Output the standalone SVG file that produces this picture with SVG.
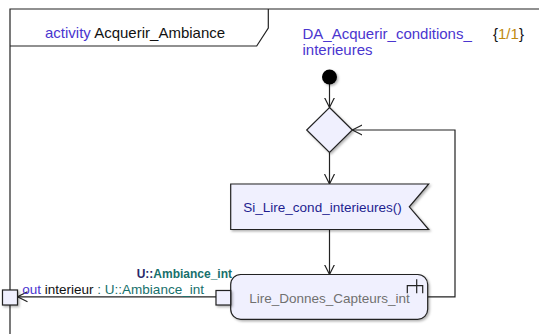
<svg xmlns="http://www.w3.org/2000/svg" width="539" height="334" viewBox="0 0 539 334">
<defs>
<style>
.ln{fill:none;stroke:#222;stroke-width:1.2}
.nd{fill:#f0f0fe;stroke:#222;stroke-width:1.2}
.t{font-family:"Liberation Sans",Arial,sans-serif}
.kw{fill:#4a36cf}
.teal{fill:#17706c}
</style>
<marker id="arr" markerWidth="12" markerHeight="12" refX="10" refY="5" orient="auto" markerUnits="userSpaceOnUse" viewBox="0 0 12 10">
<path d="M0,0 L10,5 L0,10" fill="none" stroke="#222" stroke-width="1.2"/>
</marker>
<filter id="sh" x="-20%" y="-20%" width="150%" height="150%">
<feDropShadow dx="1.5" dy="1.5" stdDeviation="0.8" flood-color="#000" flood-opacity="0.3"/>
</filter>
</defs>
<rect width="539" height="334" fill="#fff"/>
<g id="frame">
<path class="ln" d="M10,334 L10,9 L539,9"/>
<path class="ln" d="M10,46 L256.7,46 L268.3,28 L268.3,9"/>
<text class="t" x="45" y="38" font-size="15"><tspan class="kw">activity</tspan><tspan fill="#111"> Acquerir_Ambiance</tspan></text>
<text class="t kw" x="302.5" y="39" font-size="15">DA_Acquerir_conditions_</text>
<text class="t kw" x="302.5" y="55" font-size="15">interieures</text>
<text class="t" x="493" y="39" font-size="15"><tspan fill="#111">{</tspan><tspan fill="#c08a10">1/1</tspan><tspan fill="#111">}</tspan></text>
</g>
<g id="connectors">
<path class="ln" d="M329.5,84 L329.5,107.5" marker-end="url(#arr)"/>
<path class="ln" d="M329.5,152.5 L329.5,184" marker-end="url(#arr)"/>
<path class="ln" d="M329.5,229.5 L329.5,274.5" marker-end="url(#arr)"/>
<path class="ln" d="M427.7,296.8 L455,296.8 L455,130 L352.3,130" marker-end="url(#arr)"/>
<path class="ln" d="M216,296.8 L17.5,296.8" marker-end="url(#arr)"/>
</g>
<g id="initial">
<circle cx="329.5" cy="77" r="7.5" fill="#000" filter="url(#sh)"/>
</g>
<g id="decision">
<path class="nd" filter="url(#sh)" d="M329.5,107.5 L352.3,130 L329.5,152.5 L306.7,130 Z"/>
</g>
<g id="signal">
<path class="nd" filter="url(#sh)" d="M230.7,184 L428.7,184 L409.3,206.8 L428.7,229.5 L230.7,229.5 Z"/>
<text class="t" x="322.5" y="212" font-size="13.5" fill="#1e1e90" text-anchor="middle">Si_Lire_cond_interieures()</text>
</g>
<g id="action">
<rect class="nd" filter="url(#sh)" x="230.7" y="274.5" width="197" height="44.8" rx="10" ry="10"/>
<path class="ln" d="M416.7,279.3 L416.7,293.3 M407.3,293.3 L407.3,285.7 L422.7,285.7 L422.7,293.3"/>
<text class="t" x="329.5" y="303" font-size="13.5" fill="#707070" text-anchor="middle">Lire_Donnes_Capteurs_int</text>
</g>
<g id="pin">
<rect class="nd" filter="url(#sh)" x="216" y="290.5" width="14.7" height="14.5"/>
<text class="t" x="232" y="277.5" font-size="12" font-weight="bold" text-anchor="end"><tspan fill="#2a2a6a">U::</tspan><tspan class="teal">Ambiance_int</tspan></text>
</g>
<g id="param">
<rect class="nd" filter="url(#sh)" x="2.5" y="290" width="15" height="15"/>
<text class="t" x="22.3" y="294.3" font-size="13.5"><tspan class="kw">out</tspan><tspan fill="#111"> interieur </tspan><tspan class="teal">: U::Ambiance_int</tspan></text>
</g>
</svg>
